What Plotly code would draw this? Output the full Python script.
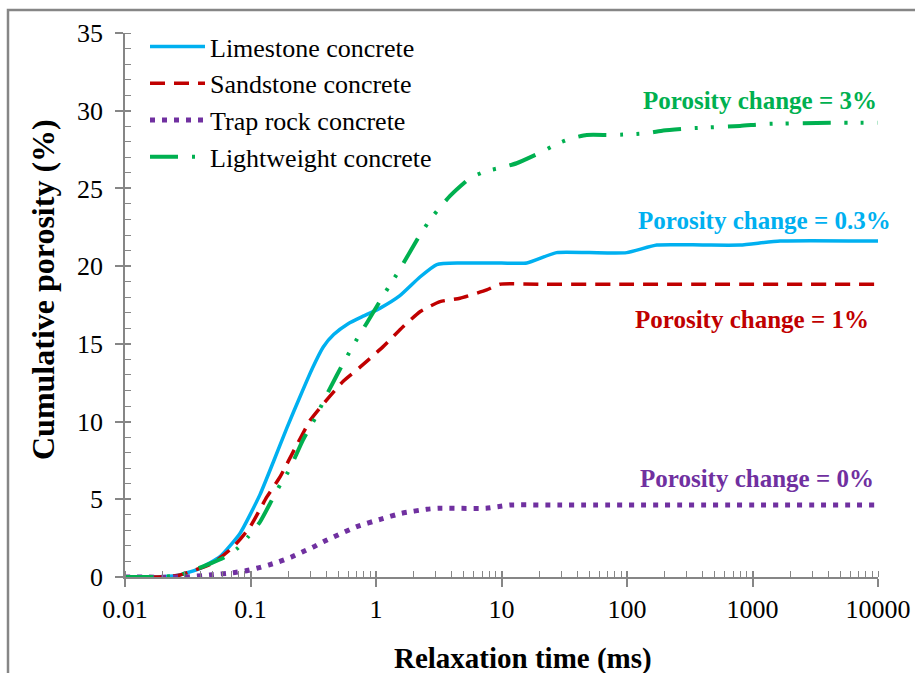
import plotly.graph_objects as go

# ---- data ----
lime_x = [0.01, 0.02, 0.0274, 0.0396, 0.0572, 0.0824, 0.119, 0.152, 0.195, 0.248, 0.31, 0.38, 0.46,
          0.6, 0.8, 1.08, 1.55, 2.24, 3.05, 4.67, 10.0, 15.9, 27.5, 50.0, 99.5, 173, 400, 795, 1660, 10000]
lime_y = [0, 0.02, 0.13, 0.56, 1.31, 2.8, 5.3, 7.4, 9.6, 11.6, 13.4, 14.8, 15.6,
          16.3, 16.8, 17.3, 18.1, 19.3, 20.1, 20.2, 20.2, 20.2, 20.87, 20.87, 20.87, 21.36, 21.36, 21.36, 21.62, 21.62]

sand_x = [0.01, 0.02, 0.0274, 0.0502, 0.0727, 0.0991, 0.135, 0.172, 0.227, 0.30, 0.405, 0.548, 0.746,
          1.14, 1.65, 2.24, 3.24, 4.67, 7.62, 9.72, 20.0, 100, 10000]
sand_y = [0, 0.02, 0.13, 0.90, 1.93, 3.22, 5.15, 6.44, 8.3, 10.1, 11.4, 12.6, 13.5,
          14.82, 16.11, 17.07, 17.72, 17.93, 18.47, 18.84, 18.84, 18.84, 18.84]

trap_x = [0.01, 0.03, 0.0475, 0.0729, 0.0904, 0.112, 0.139, 0.169, 0.210, 0.256, 0.313, 0.380, 0.463,
          0.702, 1.08, 1.60, 2.54, 3.13, 7.52, 9.33, 11.7, 30.0, 10000]
trap_y = [0, 0.0, 0.13, 0.28, 0.39, 0.56, 0.77, 0.98, 1.27, 1.59, 1.91, 2.27, 2.59,
          3.24, 3.71, 4.10, 4.36, 4.42, 4.42, 4.52, 4.63, 4.63, 4.63]

light_x = [0.01, 0.02, 0.0274, 0.0604, 0.0794, 0.0955, 0.119, 0.148, 0.172, 0.199, 0.227, 0.262, 0.327,
           0.430, 0.548, 0.723, 0.843, 1.11, 1.29, 1.51, 2.24, 2.69, 3.24, 3.89, 5.61, 7.62, 10.0,
           13.2, 20.9, 27.5, 36.3, 47.7, 77.8, 143.6, 194.5, 318, 795, 1297, 4404, 10000]
light_y = [0, 0.02, 0.13, 1.22, 1.87, 2.57, 3.54, 4.95, 5.92, 6.76, 7.72, 8.82, 10.21,
           12.14, 13.75, 15.46, 16.33, 17.93, 18.79, 19.65, 22.01, 22.97, 23.79, 24.52, 25.66, 26.13, 26.34,
           26.62, 27.35, 27.86, 28.23, 28.44, 28.44, 28.55, 28.72, 28.87, 29.02, 29.15, 29.23, 29.23]

series_names = ["Limestone concrete", "Sandstone concrete", "Trap rock concrete", "Lightweight concrete"]
series_colors = ["#00B0F0", "#C00000", "#7030A0", "#00B050"]

x_tickvals = [0.01, 0.1, 1, 10, 100, 1000, 10000]
x_ticktext = ["0.01", "0.1", "1", "10", "100", "1000", "10000"]
y_tickvals = [0, 5, 10, 15, 20, 25, 30, 35]

x_title = "Relaxation time (ms)"
y_title = "Cumulative porosity (%)"
annot_texts = ["Porosity change = 3%", "Porosity change = 0.3%", "Porosity change = 1%", "Porosity change = 0%"]
annot_colors = ["#00B050", "#00B0F0", "#C00000", "#7030A0"]

FONT = "Liberation Serif, Times New Roman, serif"

fig = go.Figure()
fig.add_trace(go.Scatter(x=lime_x, y=lime_y, mode="lines", name=series_names[0],
                         line=dict(color=series_colors[0], width=3.5, shape="spline", smoothing=0.5)))
fig.add_trace(go.Scatter(x=sand_x, y=sand_y, mode="lines", name=series_names[1],
                         line=dict(color=series_colors[1], width=3.5, shape="spline", smoothing=0.5,
                                   dash="15px,9px")))
fig.add_trace(go.Scatter(x=trap_x, y=trap_y, mode="lines", name=series_names[2],
                         line=dict(color=series_colors[2], width=5, shape="spline", smoothing=0.5,
                                   dash="5px,7px")))
fig.add_trace(go.Scatter(x=light_x, y=light_y, mode="lines", name=series_names[3],
                         line=dict(color=series_colors[3], width=4, shape="spline", smoothing=0.5,
                                   dash="28px,14px,3px,13px,3px,14px")))

# overlay axes to add the inward half of the crossing major ticks
fig.add_trace(go.Scatter(x=[0.01, 10000], y=[0, 35], xaxis="x2", yaxis="y2", mode="none",
                         showlegend=False, hoverinfo="skip"))

W, H = 915, 673
L, R, T, B = 125, 37, 33, 96
pw, ph = W - L - R, H - T - B

def px2x(px):
    return (px - L) / pw

def py2y(py):
    return (H - B - py) / ph

axis_gray = "#868686"

fig.update_layout(
    width=W, height=H,
    margin=dict(l=L, r=R, t=T, b=B, autoexpand=False),
    paper_bgcolor="white", plot_bgcolor="white",
    font=dict(family=FONT, size=26, color="black"),
    showlegend=True,
    legend=dict(x=px2x(145), y=py2y(23), xanchor="left", yanchor="top",
                font=dict(family=FONT, size=26, color="black"),
                bgcolor="rgba(0,0,0,0)", itemwidth=55, tracegroupgap=0),
    xaxis=dict(type="log", range=[-2, 4], tickvals=x_tickvals, ticktext=x_ticktext,
               showgrid=False, zeroline=False, showline=True, linecolor=axis_gray, linewidth=1.5,
               ticks="outside", ticklen=8, tickcolor=axis_gray, tickwidth=1.5,
               tickfont=dict(family=FONT, size=26, color="black"),
               minor=dict(ticks="inside", ticklen=6, tickcolor=axis_gray, tickwidth=1.2, dtick="D1", showgrid=False)),
    yaxis=dict(range=[0, 35], tickvals=y_tickvals,
               showgrid=False, zeroline=False, showline=True, linecolor=axis_gray, linewidth=1.5,
               ticks="outside", ticklen=8, tickcolor=axis_gray, tickwidth=1.5, ticklabelstandoff=7,
               tickfont=dict(family=FONT, size=26, color="black"),
               minor=dict(ticks="inside", ticklen=6, tickcolor=axis_gray, tickwidth=1.2, dtick=1, showgrid=False)),
    xaxis2=dict(type="log", range=[-2, 4], overlaying="x", tickvals=x_tickvals, showticklabels=False,
                showgrid=False, zeroline=False, showline=False, ticks="inside", ticklen=6,
                tickcolor=axis_gray, tickwidth=1.5),
    yaxis2=dict(range=[0, 35], overlaying="y", tickvals=y_tickvals, showticklabels=False,
                showgrid=False, zeroline=False, showline=False, ticks="inside", ticklen=6,
                tickcolor=axis_gray, tickwidth=1.5),
)

# outer chart border
fig.add_shape(type="rect", xref="paper", yref="paper",
              x0=px2x(8), x1=px2x(925), y0=py2y(690), y1=py2y(10),
              line=dict(color=axis_gray, width=2.5), fillcolor="rgba(0,0,0,0)", layer="below")

# axis titles
fig.add_annotation(text="<b>" + x_title + "</b>", xref="paper", yref="paper",
                   x=px2x(523), y=py2y(658), xanchor="center", yanchor="middle",
                   showarrow=False, font=dict(family=FONT, size=29, color="black"))
fig.add_annotation(text="<b>" + y_title + "</b>", xref="paper", yref="paper",
                   x=px2x(43), y=py2y(290), xanchor="center", yanchor="middle", textangle=-90,
                   showarrow=False, font=dict(family=FONT, size=32, color="black"))

annot_pos = [(879, 100), (893, 220), (871, 319), (876, 478)]
for txt, col, (axp, ayp) in zip(annot_texts, annot_colors, annot_pos):
    fig.add_annotation(text="<b>" + txt + "</b>", xref="paper", yref="paper",
                       x=px2x(axp), y=py2y(ayp), xanchor="right", yanchor="middle",
                       showarrow=False, font=dict(family=FONT, size=25, color=col))

fig.write_html("out.html")
